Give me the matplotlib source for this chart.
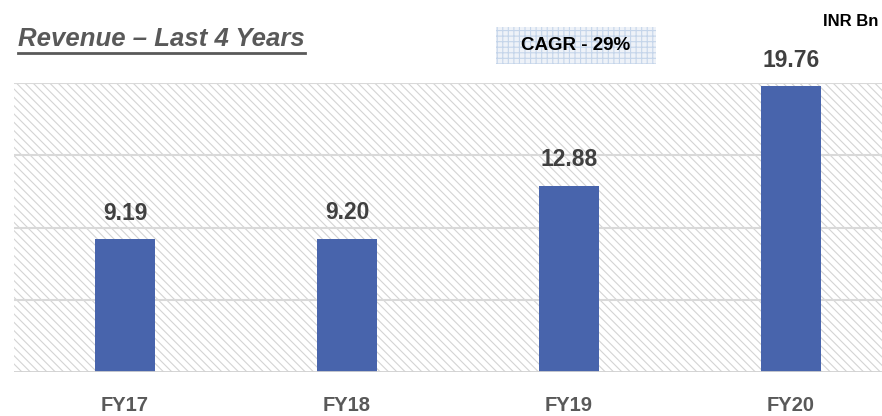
import matplotlib
matplotlib.use("Agg")
import matplotlib.pyplot as plt
from matplotlib.patches import Rectangle
from matplotlib.lines import Line2D

categories = ["FY17", "FY18", "FY19", "FY20"]
revenue = [9.19, 9.20, 12.88, 19.76]
value_labels = ["9.19", "9.20", "12.88", "19.76"]
title = "Revenue – Last 4 Years"
cagr_text = "CAGR - 29%"
unit_text = "INR Bn"

W, H = 882, 416
plt.rcParams['font.family'] = ['Liberation Sans', 'DejaVu Sans']
plt.rcParams['hatch.linewidth'] = 0.8
fig = plt.figure(figsize=(W / 100, H / 100), dpi=100)

ax_left, ax_right, ax_top, ax_bottom = 14, 882, 83, 372
ax = fig.add_axes([ax_left / W, 1 - ax_bottom / H, (ax_right - ax_left) / W, (ax_bottom - ax_top) / H])
ax.set_ylim(0, 20)
ax.set_xlim(-0.5, (ax_right - ax_left) / 222 - 0.5)

# hatched background
bg = Rectangle((0, 0), 1, 1, transform=ax.transAxes, facecolor='white',
               edgecolor='#d4d4d4', hatch='\\\\\\\\', linewidth=0, zorder=0)
ax.add_patch(bg)
for gy in [5, 10, 15, 20]:
    ax.axhline(gy, color='#d9d9d9', linewidth=1.5, zorder=1)
ax.axhline(0, color='#d0d0d0', linewidth=2, zorder=3)

x = list(range(len(categories)))
ax.bar(x, revenue, width=0.27, color='#4864ac', zorder=2)
for xi, v, lab in zip(x, revenue, value_labels):
    ax.annotate(lab, (xi, v), xytext=(0, 10.5), textcoords='offset points',
                ha='center', va='bottom', fontsize=16.5, fontweight='bold', color='#404040')

for s in ax.spines.values():
    s.set_visible(False)
ax.set_yticks([])
ax.set_xticks(x)
ax.set_xticklabels(categories, fontsize=14.5, fontweight='bold', color='#595959')
ax.tick_params(axis='x', length=0, pad=17)

# title
t = fig.text(18 / W, 1 - 39 / H, title, fontsize=18.5, fontweight='bold', fontstyle='italic',
             color='#595959', ha='left', va='center')
fig.canvas.draw()
bb = t.get_window_extent()
fig.add_artist(Line2D([bb.x0 / W, bb.x1 / W], [(H - 53) / H, (H - 53) / H],
                      transform=fig.transFigure, color='#595959', linewidth=2))

# CAGR box
fig.add_artist(Rectangle((496 / W, 1 - 64 / H), 160 / W, 37 / H, transform=fig.transFigure,
                         facecolor='#eef2f8', edgecolor='#c5d5ea', hatch='+++', linewidth=0))
fig.text(576 / W, 1 - 46 / H, cagr_text, fontsize=13.5, fontweight='bold', color='black',
         ha='center', va='center')

fig.text(878 / W, 1 - 21 / H, unit_text, fontsize=12, fontweight='bold', color='black',
         ha='right', va='center')

fig.savefig("out.png", dpi=100)
